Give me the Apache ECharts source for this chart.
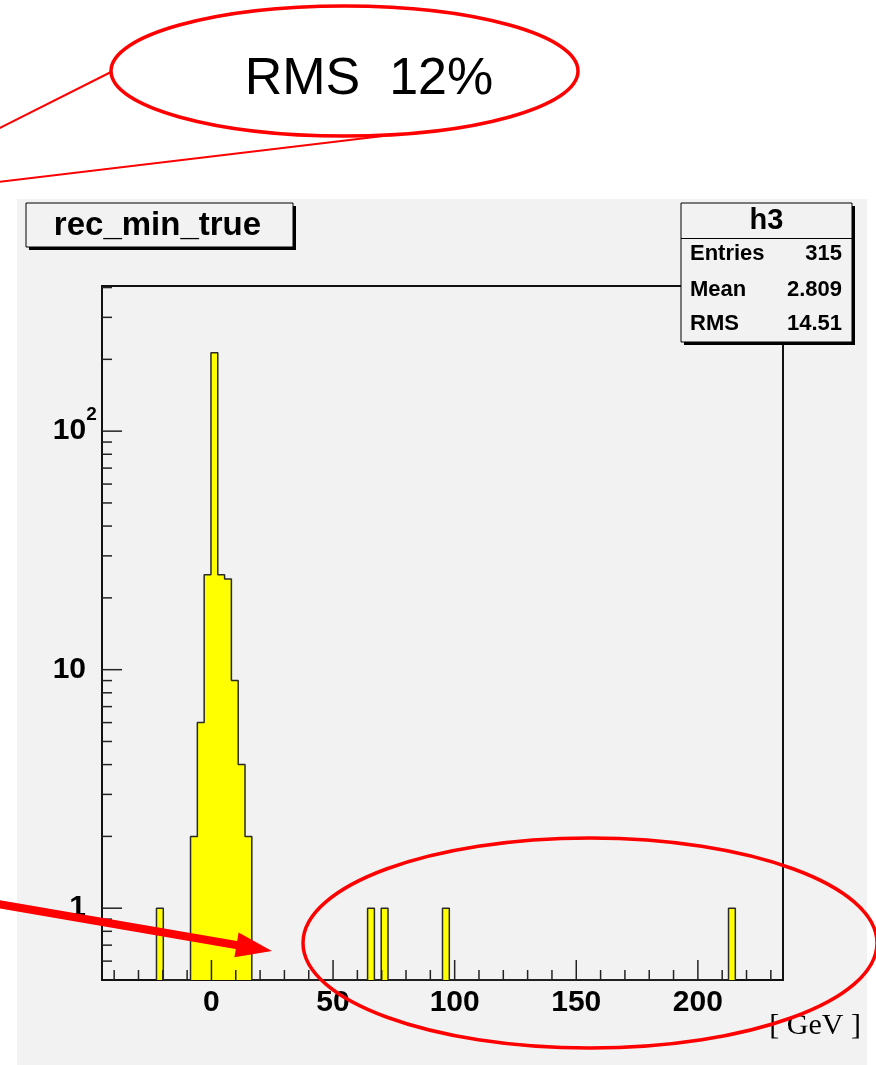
<!DOCTYPE html>
<html>
<head>
<meta charset="utf-8">
<title>rec_min_true</title>
<script src="https://cdn.jsdelivr.net/npm/echarts@6/dist/echarts.min.js"></script>
<style>
  html, body { margin: 0; padding: 0; background: #ffffff; }
  #chart { width: 876px; height: 1065px; }
</style>
</head>
<body>
<div id="chart"></div>
<script>
// Histogram binning: 100 equal bins over [-45, 235] GeV
const histMin = -45;
const histMax = 235;
const nBins = 100;

// Occupied bins (0-based bin number) and their entries
const binNumbers = [8, 13, 14, 15, 16, 17, 18, 19, 20, 21, 39, 41, 50, 92];
const binCounts  = [1, 2, 6, 25, 213, 25, 24, 9, 4, 2, 1, 1, 1, 1];

// Logarithmic count axis range
const yMin = 0.5;
const yMax = 406;

// Tick marks
const xMajorTicks = [0, 50, 100, 150, 200];
const xMinorTicks = [-40, -30, -20, -10, 10, 20, 30, 40, 60, 70, 80, 90, 110, 120, 130, 140,
                     160, 170, 180, 190, 210, 220, 230];
const yMajorTicks = [1, 10, 100];
const yMinorTicks = [0.6, 0.7, 0.8, 0.9, 2, 3, 4, 5, 6, 7, 8, 9,
                     20, 30, 40, 50, 60, 70, 80, 90, 200, 300, 400];

// Texts
const histTitle = 'rec_min_true';
const statsName = 'h3';
const statsLabels = ['Entries', 'Mean', 'RMS'];
const statsValues = ['315', '2.809', '14.51'];
const axisUnit = '[ GeV ]';
const noteText = 'RMS  12%';

const SANS = '"Liberation Sans", Arial, Helvetica, sans-serif';
const SERIF = '"Liberation Serif", "Times New Roman", serif';
const PAD = '#f2f2f2';
const RED = '#ff0000';

// Step outline of the histogram (filled down to the axis minimum)
const binWidth = (histMax - histMin) / nBins;
const outline = [];
binNumbers.forEach((k, i) => {
  const lo = histMin + k * binWidth;
  const hi = lo + binWidth;
  const joinedBefore = i > 0 && binNumbers[i - 1] === k - 1;
  const joinedAfter = i < binNumbers.length - 1 && binNumbers[i + 1] === k + 1;
  if (!joinedBefore) outline.push([lo, yMin]);
  outline.push([lo, binCounts[i]]);
  outline.push([hi, binCounts[i]]);
  if (!joinedAfter) outline.push([hi, yMin]);
});

const near = (a, b) => Math.abs(a - b) < 1e-6 * Math.max(1, b);

const xTickData = xMajorTicks.map(v => [v, yMin, 1]).concat(xMinorTicks.map(v => [v, yMin, 0]));
const yTickData = yMajorTicks.map(v => [histMin, v, 1]).concat(yMinorTicks.map(v => [histMin, v, 0]));

const chart = echarts.init(document.getElementById('chart'), null, { width: 876, height: 1065, renderer: 'canvas' });

const statsBox = { x: 681, y: 203, w: 171, h: 139 };
const titleBox = { x: 26, y: 203, w: 267, h: 44 };
const statsRowY = [254, 289.5, 324];

chart.setOption({
  animation: false,
  backgroundColor: '#ffffff',
  grid: {
    left: 102, top: 286, width: 681, height: 694,
    show: true, borderColor: '#111111', borderWidth: 2, backgroundColor: 'transparent',
    containLabel: false
  },
  xAxis: {
    type: 'value', min: histMin, max: histMax,
    axisLine: { show: false }, axisTick: { show: false }, splitLine: { show: false },
    axisLabel: {
      formatter: v => (xMajorTicks.some(t => near(v, t)) ? String(Math.round(v)) : ''),
      color: '#000', fontSize: 30, fontWeight: 'bold', fontFamily: SANS, margin: 8
    }
  },
  yAxis: {
    type: 'log', logBase: 10, min: yMin, max: yMax,
    axisLine: { show: false }, axisTick: { show: false }, splitLine: { show: false },
    axisLabel: {
      margin: 5,
      formatter: v => {
        if (near(v, 100)) return '{n|10}{s|2}{h| }';
        if (near(v, 10)) return '{n|10}{p| }';
        if (near(v, 1)) return '{n|1}{p| }';
        return '';
      },
      rich: {
        n: { fontSize: 30, fontWeight: 'bold', fontFamily: SANS, color: '#000', lineHeight: 30,
             verticalAlign: 'middle' },
        s: { fontSize: 19, fontWeight: 'bold', fontFamily: SANS, color: '#000', lineHeight: 19,
             verticalAlign: 'top' },
        h: { fontSize: 1, lineHeight: 52, verticalAlign: 'middle' },
        p: { fontSize: 19, width: 11, lineHeight: 19 }
      }
    }
  },
  series: [
    {
      name: 'h3', type: 'line', data: outline,
      symbol: 'none', showSymbol: false, smooth: false,
      lineStyle: { color: '#2a2a2a', width: 1.5 },
      areaStyle: { color: '#ffff00', opacity: 1, origin: 'start' },
      z: 2
    },
    {
      type: 'custom', data: xTickData, z: 5, silent: true,
      renderItem: (params, api) => {
        const p = api.coord([api.value(0), api.value(1)]);
        const len = api.value(2) ? 20 : 10;
        return { type: 'line', shape: { x1: p[0], y1: p[1], x2: p[0], y2: p[1] - len },
                 style: { stroke: '#222', lineWidth: 1.5 } };
      }
    },
    {
      type: 'custom', data: yTickData, z: 5, silent: true,
      renderItem: (params, api) => {
        const p = api.coord([api.value(0), api.value(1)]);
        const len = api.value(2) ? 20 : 10;
        return { type: 'line', shape: { x1: p[0], y1: p[1], x2: p[0] + len, y2: p[1] },
                 style: { stroke: '#222', lineWidth: 1.5 } };
      }
    }
  ],
  graphic: [
    // canvas pad
    { type: 'rect', z: -10, shape: { x: 17, y: 199, width: 850, height: 880 }, style: { fill: PAD } },

    // histogram title box
    { type: 'rect', z: 100, shape: { x: titleBox.x + 3, y: titleBox.y + 3, width: titleBox.w, height: titleBox.h },
      style: { fill: '#000' } },
    { type: 'rect', z: 101, shape: { x: titleBox.x, y: titleBox.y, width: titleBox.w, height: titleBox.h },
      style: { fill: PAD, stroke: '#000', lineWidth: 1 } },
    { type: 'text', z: 102, style: { text: histTitle, x: titleBox.x + titleBox.w / 2 - 2, y: titleBox.y + titleBox.h / 2 + 1,
      font: 'bold 33px ' + SANS, fill: '#000', textAlign: 'center', textVerticalAlign: 'middle' } },

    // statistics box
    { type: 'rect', z: 100, shape: { x: statsBox.x + 3, y: statsBox.y + 3, width: statsBox.w, height: statsBox.h },
      style: { fill: '#000' } },
    { type: 'rect', z: 101, shape: { x: statsBox.x, y: statsBox.y, width: statsBox.w, height: statsBox.h },
      style: { fill: PAD, stroke: '#000', lineWidth: 1 } },
    { type: 'line', z: 102, shape: { x1: statsBox.x, y1: 238.5, x2: statsBox.x + statsBox.w, y2: 238.5 },
      style: { stroke: '#000', lineWidth: 1 } },
    { type: 'text', z: 102, style: { text: statsName, x: statsBox.x + statsBox.w / 2, y: 221,
      font: 'bold 29px ' + SANS, fill: '#000', textAlign: 'center', textVerticalAlign: 'middle' } },
    ...statsLabels.map((t, i) => ({ type: 'text', z: 102, style: { text: t, x: 690, y: statsRowY[i],
      font: 'bold 22px ' + SANS, fill: '#000', textAlign: 'left', textVerticalAlign: 'middle' } })),
    ...statsValues.map((t, i) => ({ type: 'text', z: 102, style: { text: t, x: 842, y: statsRowY[i],
      font: 'bold 22px ' + SANS, fill: '#000', textAlign: 'right', textVerticalAlign: 'middle' } })),

    // axis unit
    { type: 'text', z: 50, style: { text: axisUnit, x: 861, y: 1041, font: '30px ' + SERIF, fill: '#000',
      textAlign: 'right', textVerticalAlign: 'bottom' } },

    // callout: resolution note
    { type: 'ellipse', z: 200, shape: { cx: 344.5, cy: 71, rx: 233.5, ry: 65 },
      style: { fill: 'none', stroke: RED, lineWidth: 3.5 } },
    { type: 'text', z: 200, style: { text: noteText, x: 369, y: 80, font: '52px ' + SANS, fill: '#000',
      textAlign: 'center', textVerticalAlign: 'middle' } },
    { type: 'line', z: 200, shape: { x1: 111, y1: 72, x2: -2, y2: 129 }, style: { stroke: RED, lineWidth: 2 } },
    { type: 'line', z: 200, shape: { x1: 383, y1: 136, x2: -2, y2: 182 }, style: { stroke: RED, lineWidth: 2 } },

    // callout: outliers
    { type: 'ellipse', z: 200, shape: { cx: 590, cy: 943, rx: 287, ry: 105 },
      style: { fill: 'none', stroke: RED, lineWidth: 3.5 } },
    { type: 'line', z: 200, shape: { x1: -2, y1: 904, x2: 242, y2: 946 }, style: { stroke: RED, lineWidth: 8 } },
    { type: 'polygon', z: 200, shape: { points: [[272, 951], [238.6, 932.6], [234.4, 957.2]] },
      style: { fill: RED } }
  ]
});
</script>
</body>
</html>
